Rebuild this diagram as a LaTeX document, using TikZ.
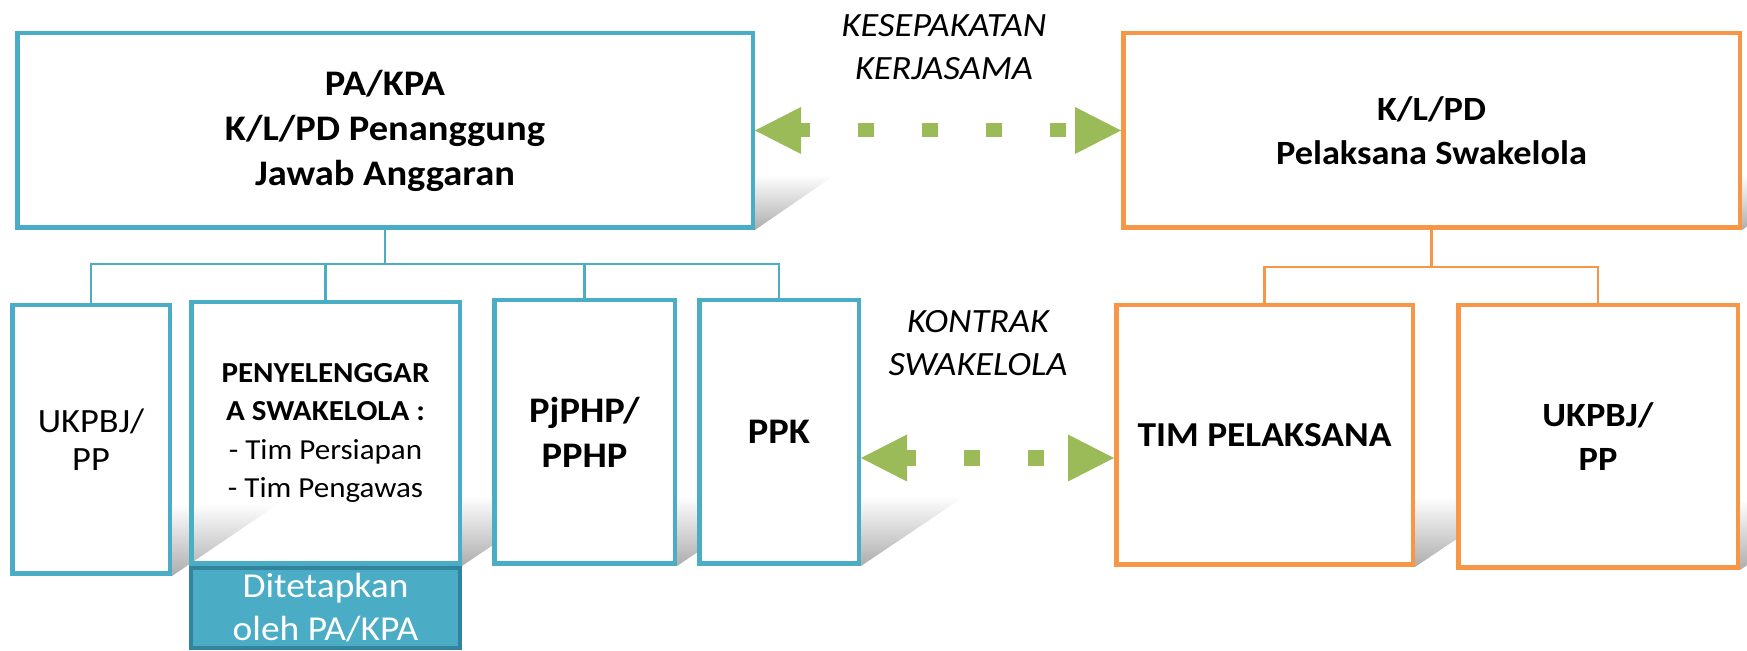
\documentclass[tikz,border=0pt]{standalone}
\usepackage{fontspec}
\setmainfont[FakeStretch=1.07]{Carlito}
\usetikzlibrary{arrows.meta,backgrounds,fadings}
\definecolor{cblue}{HTML}{4BACC6}
\definecolor{corange}{HTML}{F79646}
\definecolor{cgreen}{HTML}{9BBB59}
\definecolor{cdark}{HTML}{31849B}
\newcommand\castshadow[3]{%
  \fill[shadowc] (#1.south west) -- (#1.south east)
    -- ([shift={(#3,-#2)}]#1.south east) -- ([shift={(#3,-#2)}]#1.south west) -- cycle;}
\begin{document}
\begin{tikzpicture}[x=0.5pt,y=-0.5pt,
  bbox/.style={draw=cblue, line width=2.25pt, fill=white, inner sep=0pt, align=center},
  obox/.style={draw=corange, line width=2.25pt, fill=white, inner sep=0pt, align=center},
  bigbold/.style={font=\fontsize{18}{22.5}\selectfont\bfseries},
  midbold/.style={font=\fontsize{17}{22}\selectfont\bfseries},
  lbltext/.style={font=\fontsize{17}{21.5}\selectfont\itshape, align=center, inner sep=0pt},
  bline/.style={draw=cblue, line width=1.1pt},
  oline/.style={draw=corange, line width=1.1pt},
  shadowc/.style={black!32, path fading=north},
  garrow/.style={draw=cgreen, dash pattern=on 8pt off 24pt, dash phase=3.5pt,
    >={Triangle[length=23pt,width=23.5pt,line width=0pt]}, <->}
]
\useasboundingbox (0,0) rectangle (1747,651);

% top level boxes
\node[bbox, bigbold, minimum width=367.75pt, minimum height=97.25pt] (pa) at (385,130.5)
  {PA/KPA\\K/L/PD Penanggung\\Jawab Anggaran};
\node[obox, midbold, minimum width=308.25pt, minimum height=97.25pt] (kl) at (1431.5,130.5)
  {K/L/PD\\Pelaksana Swakelola};

% children left
\node[bbox, font=\fontsize{17}{19}\selectfont, minimum width=78.75pt, minimum height=134.25pt] (uk1) at (91,439.5)
  {UKPBJ/\\PP};
\node[bbox, fill=none, font=\fontsize{14.5}{19.25}\selectfont, minimum width=134.25pt, minimum height=130.75pt] (peny) at (325.5,433)
  {\textbf{PENYELENGGAR}\\\textbf{A SWAKELOLA :}\\- Tim Persiapan\\- Tim Pengawas};
\node[bbox, bigbold, minimum width=90.25pt, minimum height=131.75pt] (pj) at (584.5,432)
  {PjPHP/\\PPHP};
\node[bbox, bigbold, minimum width=79.75pt, minimum height=131.75pt] (ppk) at (779,432)
  {PPK};
\node[draw=cdark, fill=cblue, line width=2pt, text=white, inner sep=0pt, align=center,
  font=\fontsize{17.5}{21.5}\selectfont, minimum width=134.5pt, minimum height=40pt] (lbl) at (325.5,608)
  {Ditetapkan\\oleh PA/KPA};

% children right
\node[obox, font=\fontsize{17.5}{22}\selectfont\bfseries, minimum width=148.25pt, minimum height=129.75pt] (tim) at (1264.5,435)
  {TIM PELAKSANA};
\node[obox, midbold, minimum width=139.75pt, minimum height=131.25pt] (uk2) at (1598,436.5)
  {UKPBJ/\\PP};

% shadows
\begin{pgfonlayer}{background}
  \castshadow{pa}{55}{80}
  \castshadow{kl}{55}{80}
  \castshadow{peny}{70}{104}
  \castshadow{pj}{70}{104}
  \castshadow{ppk}{70}{104}
  \castshadow{tim}{70}{104}
  \castshadow{uk2}{70}{104}
  \fill[white] (peny.south west) rectangle (peny.north east);
  \castshadow{uk1}{72}{106}
\end{pgfonlayer}

% labels
\node[lbltext] (kes) at (944,47) {KESEPAKATAN\\KERJASAMA};
\node[lbltext] (kon) at (978,343) {KONTRAK\\SWAKELOLA};

% tree connectors
\coordinate (pabus) at (385,264);
\draw[bline] (pa.south) -- (pabus);
\draw[bline] (uk1.north) |- (pabus) -| (ppk.north);
\draw[bline] (peny.north) -- (peny.north |- pabus);
\draw[bline] (pj.north) -- (pj.north |- pabus);

\coordinate (klbus) at (1431.5,267);
\draw[oline] (kl.south) -- (klbus);
\draw[oline] (tim.north) |- (klbus) -| (uk2.north);

% green arrows
\draw[garrow, line width=7pt] (pa.east) -- (kl.west);
\coordinate (lowy) at (0,458);
\draw[garrow, line width=8pt] (ppk.east |- lowy) -- (tim.west |- lowy);
\end{tikzpicture}
\end{document}
